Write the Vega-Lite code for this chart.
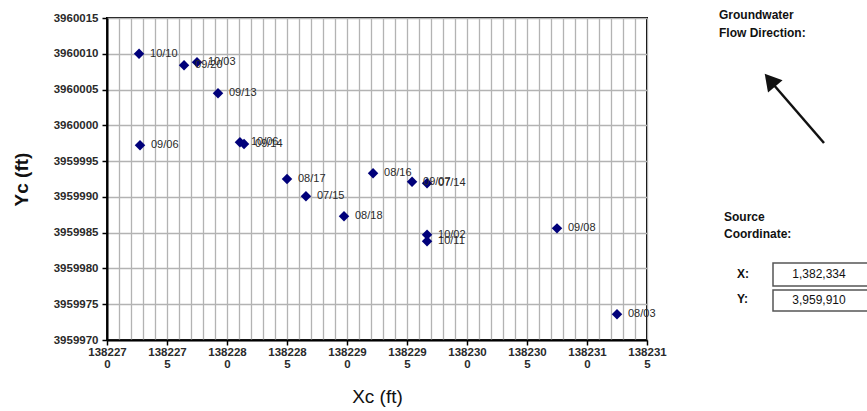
{
  "$schema": "https://vega.github.io/schema/vega-lite/v6.json",
  "background": "white",
  "padding": {"left": 11, "top": 9, "right": 0, "bottom": 0},
  "config": {"view": {"stroke": null}, "font": "Liberation Sans"},
  "spacing": 41,
  "hconcat": [
    {
      "width": 540,
      "height": 322,
      "view": {"stroke": "black", "strokeWidth": 2},
      "data": {"values": [
        {"label": "10/10", "x": 1382272.67, "y": 3960010.0},
        {"label": "09/20", "x": 1382276.42, "y": 3960008.4},
        {"label": "10/03", "x": 1382277.5, "y": 3960008.8},
        {"label": "09/13", "x": 1382279.25, "y": 3960004.5},
        {"label": "09/06", "x": 1382272.75, "y": 3959997.2},
        {"label": "10/06", "x": 1382281.08, "y": 3959997.65},
        {"label": "09/14", "x": 1382281.42, "y": 3959997.4},
        {"label": "08/17", "x": 1382285.0, "y": 3959992.5},
        {"label": "07/15", "x": 1382286.58, "y": 3959990.1},
        {"label": "08/18", "x": 1382289.75, "y": 3959987.3},
        {"label": "08/16", "x": 1382292.17, "y": 3959993.3},
        {"label": "09/07", "x": 1382295.42, "y": 3959992.1},
        {"label": "07/14", "x": 1382296.67, "y": 3959991.9},
        {"label": "10/02", "x": 1382296.67, "y": 3959984.7},
        {"label": "10/11", "x": 1382296.67, "y": 3959983.8},
        {"label": "09/08", "x": 1382307.5, "y": 3959985.6},
        {"label": "08/03", "x": 1382312.5, "y": 3959973.6}
      ]},
      "layer": [
        {
          "mark": {"type": "point", "shape": "diamond", "filled": true, "size": 110, "color": "#00007a", "opacity": 1},
          "encoding": {
            "x": {"field": "x", "type": "quantitative",
              "scale": {"domain": [1382270, 1382315], "zero": false, "nice": false},
              "axis": {"orient": "top", "values": [1382270,1382271,1382272,1382273,1382274,1382275,1382276,1382277,1382278,1382279,1382280,1382281,1382282,1382283,1382284,1382285,1382286,1382287,1382288,1382289,1382290,1382291,1382292,1382293,1382294,1382295,1382296,1382297,1382298,1382299,1382300,1382301,1382302,1382303,1382304,1382305,1382306,1382307,1382308,1382309,1382310,1382311,1382312,1382313,1382314,1382315],
                "grid": true, "gridColor": "#b3b3b3", "gridWidth": 1.3, "gridOpacity": 1,
                "labels": false, "ticks": false, "domain": false, "title": null}},
            "y": {"field": "y", "type": "quantitative",
              "scale": {"domain": [3959970, 3960015], "zero": false, "nice": false},
              "axis": {"orient": "right", "values": [3959970,3959975,3959980,3959985,3959990,3959995,3960000,3960005,3960010,3960015],
                "grid": true, "gridColor": "#b3b3b3", "gridWidth": 1.5, "gridOpacity": 1,
                "labels": false, "ticks": false, "domain": false, "title": null}}
          }
        },
        {
          "mark": {"type": "text", "align": "left", "baseline": "middle", "dx": 11, "fontSize": 11, "color": "#2a2a2a", "letterSpacing": 2},
          "encoding": {
            "x": {"field": "x", "type": "quantitative",
              "axis": {"values": [1382270,1382275,1382280,1382285,1382290,1382295,1382300,1382305,1382310,1382315],
                "format": "d", "labelExpr": "[slice(datum.label,0,6), slice(datum.label,6)]",
                "labelFlush": false, "labelOverlap": false,
                "grid": false, "domainColor": "black", "domainWidth": 2, "tickColor": "black", "tickWidth": 1.5, "tickSize": 5,
                "labelFontSize": 11.5, "labelFontWeight": "bold", "labelColor": "#2a2a2a", "labelPadding": 1, "labelLineHeight": 12,
                "title": "Xc (ft)", "titleFontSize": 19, "titleFontWeight": "normal", "titleColor": "#111111", "titlePadding": 18}},
            "y": {"field": "y", "type": "quantitative",
              "axis": {"values": [3959970,3959975,3959980,3959985,3959990,3959995,3960000,3960005,3960010,3960015],
                "format": "d", "labelFlush": false, "labelOverlap": false,
                "grid": false, "domainColor": "black", "domainWidth": 2, "tickColor": "black", "tickWidth": 1.5, "tickSize": 5,
                "labelFontSize": 11.5, "labelFontWeight": "bold", "labelColor": "#2a2a2a", "labelPadding": 4,
                "title": "Yc (ft)", "titleFontSize": 19, "titleFontWeight": "bold", "titleColor": "#111111", "titlePadding": 22}},
            "text": {"field": "label", "type": "nominal"}
          }
        }
      ],
      "resolve": {"axis": {"x": "independent", "y": "independent"}}
    },
    {
      "width": 160,
      "height": 322,
      "layer": [
        {
          "data": {"values": [{"x": 64, "x2": 172, "y": 245, "y2": 268}, {"x": 64, "x2": 172, "y": 272, "y2": 293}]},
          "mark": {"type": "rect", "fill": "white", "stroke": "#555555", "strokeWidth": 1.5},
          "encoding": {
            "x": {"field": "x", "type": "quantitative", "scale": {"domain": [0, 160]}, "axis": null},
            "x2": {"field": "x2"},
            "y": {"field": "y", "type": "quantitative", "scale": {"domain": [0, 322], "reverse": true}, "axis": null},
            "y2": {"field": "y2"}
          }
        },
        {
          "data": {"values": [{"x": 115, "y": 125, "x2": 64, "y2": 66}]},
          "mark": {"type": "rule", "color": "#111111", "strokeWidth": 2.5},
          "encoding": {
            "x": {"field": "x", "type": "quantitative", "scale": {"domain": [0, 160]}, "axis": null},
            "x2": {"field": "x2"},
            "y": {"field": "y", "type": "quantitative", "scale": {"domain": [0, 322], "reverse": true}, "axis": null},
            "y2": {"field": "y2"}
          }
        },
        {
          "data": {"values": [{"x": 61, "y": 62}]},
          "mark": {"type": "point", "shape": "triangle-up", "filled": true, "size": 360, "angle": 320, "color": "#111111", "opacity": 1},
          "encoding": {
            "x": {"field": "x", "type": "quantitative", "scale": {"domain": [0, 160]}, "axis": null},
            "y": {"field": "y", "type": "quantitative", "scale": {"domain": [0, 322], "reverse": true}, "axis": null}
          }
        },
        {
          "data": {"values": [
            {"x": 10, "y": -3, "t": "Groundwater"},
            {"x": 10, "y": 15, "t": "Flow Direction:"},
            {"x": 15, "y": 199, "t": "Source"},
            {"x": 15, "y": 216, "t": "Coordinate:"},
            {"x": 28, "y": 256, "t": "X:"},
            {"x": 28, "y": 281, "t": "Y:"}
          ]},
          "mark": {"type": "text", "align": "left", "baseline": "middle", "fontSize": 12, "fontWeight": "bold", "color": "#111111"},
          "encoding": {
            "x": {"field": "x", "type": "quantitative", "scale": {"domain": [0, 160]}, "axis": null},
            "y": {"field": "y", "type": "quantitative", "scale": {"domain": [0, 322], "reverse": true}, "axis": null},
            "text": {"field": "t", "type": "nominal"}
          }
        },
        {
          "data": {"values": [
            {"x": 110, "y": 256, "t": "1,382,334"},
            {"x": 110, "y": 282, "t": "3,959,910"}
          ]},
          "mark": {"type": "text", "align": "center", "baseline": "middle", "fontSize": 12, "color": "#111111"},
          "encoding": {
            "x": {"field": "x", "type": "quantitative", "scale": {"domain": [0, 160]}, "axis": null},
            "y": {"field": "y", "type": "quantitative", "scale": {"domain": [0, 322], "reverse": true}, "axis": null},
            "text": {"field": "t", "type": "nominal"}
          }
        }
      ]
    }
  ]
}
